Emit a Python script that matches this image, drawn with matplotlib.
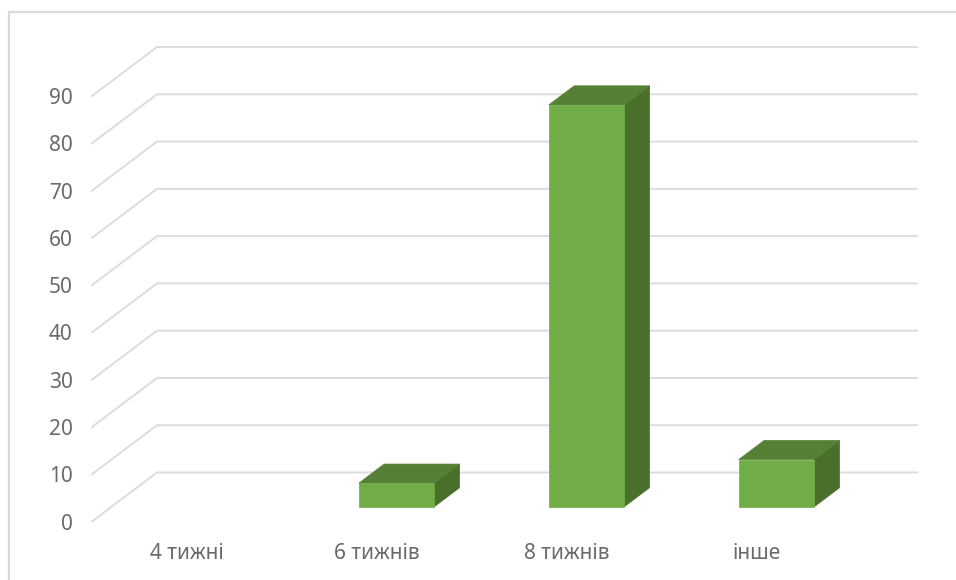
import matplotlib
matplotlib.use('Agg')
import matplotlib.pyplot as plt
from matplotlib.lines import Line2D

categories = ['4 тижні', '6 тижнів', '8 тижнів', 'інше']
values = [0, 5, 85, 10]
y_ticks = [0, 10, 20, 30, 40, 50, 60, 70, 80, 90]

W, H = 956, 580
plt.rc('font', family=['Noto Sans', 'DejaVu Sans'])

fig = plt.figure(figsize=(W / 100, H / 100), dpi=100, facecolor='white')

# axes cover the front plane of the fake 3d box, in pixels
left, right, bottom, top = 92, 852, 521.5, 96
ax = fig.add_axes([left / W, 1 - bottom / H, (right - left) / W, (bottom - top) / H])
ax.set_xlim(0, 4)
ax.set_ylim(0, 90)
ax.patch.set_visible(False)
for s in ax.spines.values():
    s.set_visible(False)

# depth of the box in data units (65 px across, 49 px up)
depth_x = 65 / 190
depth_y = 49 / (bottom - top) * 90


def project(x, y, d):
    return x + d * depth_x, y + d * depth_y


# walls: diagonal floor line and back line for every tick
for v in y_ticks:
    x0, y0 = project(0, v, 0)
    x1, y1 = project(0, v, 1)
    x2, y2 = project(4, v, 1)
    ax.plot([x0, x1, x2], [y0, y1, y2], color='#dcdcdc', lw=1.4, clip_on=False, zorder=1,
            solid_joinstyle='miter')

# bars
bar_width = 0.397
d_front, d_back = 0.30, 0.69
for i, v in enumerate(values):
    if v == 0:
        continue
    xl, xr = i + 0.5 - bar_width / 2, i + 0.5 + bar_width / 2
    p = [project(xl, 0, d_front), project(xr, 0, d_front), project(xr, v, d_front), project(xl, v, d_front)]
    q = [project(xl, 0, d_back), project(xr, 0, d_back), project(xr, v, d_back), project(xl, v, d_back)]
    # side
    ax.fill([p[1][0], q[1][0], q[2][0], p[2][0]], [p[1][1], q[1][1], q[2][1], p[2][1]],
            color='#4a6f2a', lw=0.5, clip_on=False, zorder=3)
    # top
    ax.fill([p[3][0], p[2][0], q[2][0], q[3][0]], [p[3][1], p[2][1], q[2][1], q[3][1]],
            color='#558036', lw=0.5, clip_on=False, zorder=3)
    # front
    ax.fill([c[0] for c in p], [c[1] for c in p], color='#70ad47', lw=0.5, clip_on=False, zorder=4)

ax.set_xticks([i + 0.5 for i in range(len(categories))])
ax.set_xticklabels(categories)
ax.set_yticks(y_ticks)
ax.tick_params(axis='both', length=0, labelsize=15, labelcolor='#6a6a6a')
ax.tick_params(axis='y', pad=14)
ax.tick_params(axis='x', pad=15.5)

# chart frame, only left and top are inside the crop
fig.add_artist(Line2D([8.5 / W, 8.5 / W, 956 / W], [0, 1 - 11.5 / H, 1 - 11.5 / H],
                      color='#d9d9d9', lw=1.6, solid_joinstyle='miter'))

fig.savefig('out.png', dpi=100)
